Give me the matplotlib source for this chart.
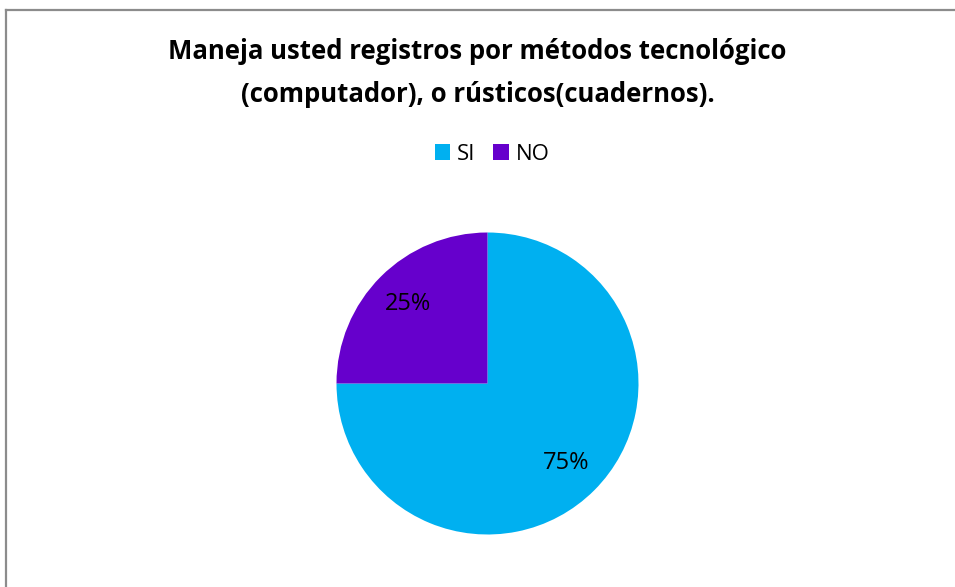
import matplotlib.pyplot as plt
from matplotlib.lines import Line2D

title = 'Maneja usted registros por métodos tecnológico\n(computador), o rústicos(cuadernos).'
categories = ['SI', 'NO']
values = [75, 25]
colors = ['#00B0F0', '#6600CC']


def draw():
    W, H = 955, 587
    fig = plt.figure(figsize=(W / 100, H / 100), dpi=100)
    fig.patch.set_facecolor('white')

    # gray chart-area border (only top and left visible in the crop)
    fig.add_artist(Line2D([5.5 / W, 5.5 / W], [0, 1 - 10 / H], color='#8c8c8c', lw=1.6,
                          transform=fig.transFigure))
    fig.add_artist(Line2D([5.5 / W, 1], [1 - 10 / H, 1 - 10 / H], color='#8c8c8c', lw=1.6,
                          transform=fig.transFigure))

    # pie axes: centre (487.5, 383.5) px, radius ~151 px
    cx, cy, r = 487.5, 383.5, 151
    ax = fig.add_axes([(cx - r) / W, (H - cy - r) / H, 2 * r / W, 2 * r / H])
    wedges, texts, autotexts = ax.pie(values, colors=colors, startangle=90, counterclock=False,
                                      autopct='%1.0f%%', pctdistance=0.74,
                                      textprops={'fontsize': 17, 'family': 'Open Sans', 'color': 'black'})
    ax.set_xlim(-1, 1)
    ax.set_ylim(-1, 1)
    ax.set_aspect('equal')

    fig.text(0.5, 1 - 73 / H, title, ha='center', va='center', fontsize=18.5,
             fontweight='bold', family='Open Sans', linespacing=1.72)

    fig.legend(wedges, categories, loc='center', bbox_to_anchor=(492 / W, 1 - 154 / H), ncol=2,
               frameon=False, handlelength=0.7, handleheight=0.7, handletextpad=0.3,
               columnspacing=0.8, prop={'family': 'Open Sans', 'size': 16})

    plt.savefig('out.png', dpi=100)


if __name__ == '__main__':
    draw()
